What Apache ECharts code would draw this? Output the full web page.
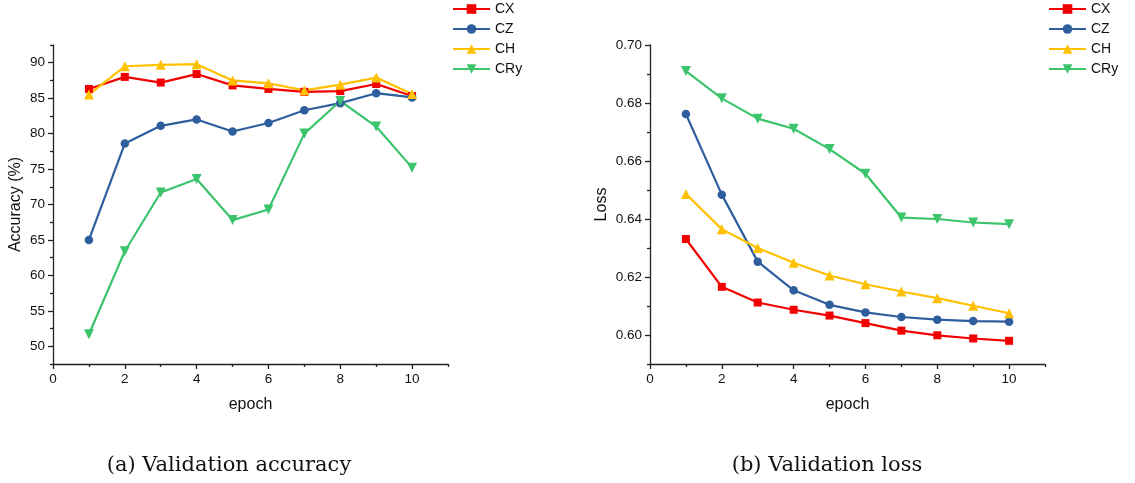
<!DOCTYPE html>
<html>
<head>
<meta charset="utf-8">
<script src="https://cdn.jsdelivr.net/npm/echarts@6/dist/echarts.min.js"></script>
<style>html,body{margin:0;padding:0;background:#fff;}#c{width:1135px;height:483px;}</style>
</head>
<body>
<div id="c"></div>
<script>
const epochs = [1,2,3,4,5,6,7,8,9,10];
const seriesNames = ['CX','CZ','CH','CRy'];
const accCX  = [86.3, 88.0, 87.2, 88.4, 86.8, 86.3, 85.9, 86.0, 87.0, 85.3];
const accCZ  = [65.0, 78.6, 81.1, 82.0, 80.3, 81.5, 83.3, 84.3, 85.7, 85.1];
const accCH  = [85.5, 89.5, 89.7, 89.8, 87.5, 87.1, 86.1, 86.9, 87.9, 85.6];
const accCRy = [51.7, 63.4, 71.7, 73.6, 67.8, 69.3, 80.0, 84.6, 81.0, 75.2];
const lossCX  = [0.6331, 0.6166, 0.6112, 0.6087, 0.6067, 0.6041, 0.6015, 0.5999, 0.5988, 0.5980];
const lossCZ  = [0.6762, 0.6484, 0.6253, 0.6154, 0.6104, 0.6078, 0.6062, 0.6053, 0.6048, 0.6046];
const lossCH  = [0.6486, 0.6365, 0.6300, 0.6249, 0.6205, 0.6175, 0.6150, 0.6127, 0.6101, 0.6075];
const lossCRy = [0.6910, 0.6816, 0.6746, 0.6711, 0.6641, 0.6556, 0.6405, 0.6400, 0.6388, 0.6382];
const xMajorTicks = [0,2,4,6,8,10];
const xMinorTicks = [1,3,5,7,9,11];
const accMajorTicks = [50,55,60,65,70,75,80,85,90];
const accMinorTicks = [47.5,52.5,57.5,62.5,67.5,72.5,77.5,82.5,87.5,92.5];
const lossMajorTicks = [0.60,0.62,0.64,0.66,0.68,0.70];
const lossMinorTicks = [0.59,0.61,0.63,0.65,0.67,0.69];
const captions = ['(a) Validation accuracy','(b) Validation loss'];

const colors = ['#F20000','#2F5E9E','#FFC000','#3CC46C'];
const symbols = ['rect','circle','triangle','path://M0,0 L10,0 L5,9 Z'];
const symSizes = [8,8.5,10,10];

const font = 'Liberation Sans, Arial, sans-serif';
const axisLineStyle = {color:'#222', width:1.3};

function xAxes(gi){
  return [
    {type:'value', gridIndex:gi, min:0, max:11, position:'bottom',
     name:'epoch', nameLocation:'middle', nameGap:33,
     nameTextStyle:{fontFamily:font, fontSize:16, color:'#111'},
     axisLine:{show:true, lineStyle:axisLineStyle},
     axisTick:{show:true, customValues:xMajorTicks, length:5, lineStyle:axisLineStyle},
     axisLabel:{show:true, customValues:xMajorTicks, fontFamily:font, fontSize:13.5, color:'#111', margin:8},
     splitLine:{show:false}},
    {type:'value', gridIndex:gi, min:0, max:11, position:'bottom',
     axisLine:{show:false},
     axisTick:{show:true, customValues:xMinorTicks, length:3, lineStyle:axisLineStyle},
     axisLabel:{show:false}, splitLine:{show:false}}
  ];
}
function yAxes(gi, min, max, major, minor, name, gap, fmt){
  return [
    {type:'value', gridIndex:gi, min:min, max:max, position:'left',
     name:name, nameLocation:'middle', nameGap:gap, nameRotate:90,
     nameTextStyle:{fontFamily:font, fontSize:16, color:'#111'},
     axisLine:{show:true, lineStyle:axisLineStyle},
     axisTick:{show:true, customValues:major, length:5, lineStyle:axisLineStyle},
     axisLabel:{show:true, customValues:major, formatter:fmt, fontFamily:font, fontSize:13.5, color:'#111', margin:8},
     splitLine:{show:false}},
    {type:'value', gridIndex:gi, min:min, max:max, position:'left',
     axisLine:{show:false},
     axisTick:{show:true, customValues:minor, length:3, lineStyle:axisLineStyle},
     axisLabel:{show:false}, splitLine:{show:false}}
  ];
}
function mkSeries(dataArr, xi, yi){
  return dataArr.map((d,i)=>({
    name: seriesNames[i], type:'line', xAxisIndex:xi, yAxisIndex:yi,
    data: epochs.map((e,k)=>[e,d[k]]),
    symbol: symbols[i], symbolSize: symSizes[i], showSymbol:true,
    lineStyle:{width:2.2, color:colors[i]},
    itemStyle:{color:colors[i]},
    z: 2, animation:false
  }));
}
function legend(left){
  return {left:left, top:2, padding:0, orient:'vertical', itemWidth:37, itemHeight:12, itemGap:6,
    data: seriesNames, textStyle:{fontFamily:font, fontSize:14, color:'#111'}};
}

const chart = echarts.init(document.getElementById('c'), null, {renderer:'canvas'});
chart.setOption({
  animation:false,
  color: colors,
  legend:[legend(452), legend(1048)],
  grid:[
    {left:53, top:45, width:395, height:319},
    {left:650, top:45, width:395, height:319}
  ],
  xAxis:[...xAxes(0), ...xAxes(1)],
  yAxis:[
    ...yAxes(0, 47.5, 92.5, accMajorTicks, accMinorTicks, 'Accuracy (%)', 29, v=>String(v)),
    ...yAxes(1, 0.59, 0.70, lossMajorTicks, lossMinorTicks, 'Loss', 40, v=>v.toFixed(2))
  ],
  series:[
    ...mkSeries([accCX,accCZ,accCH,accCRy], 0, 0),
    ...mkSeries([lossCX,lossCZ,lossCH,lossCRy], 2, 2)
  ],
  graphic:[
    {type:'text', x:229, y:466, style:{text:captions[0], font:'21px "DejaVu Serif", serif', fill:'#111', align:'center', verticalAlign:'middle'}},
    {type:'text', x:827, y:466, style:{text:captions[1], font:'21px "DejaVu Serif", serif', fill:'#111', align:'center', verticalAlign:'middle'}}
  ]
});
</script>
</body>
</html>
